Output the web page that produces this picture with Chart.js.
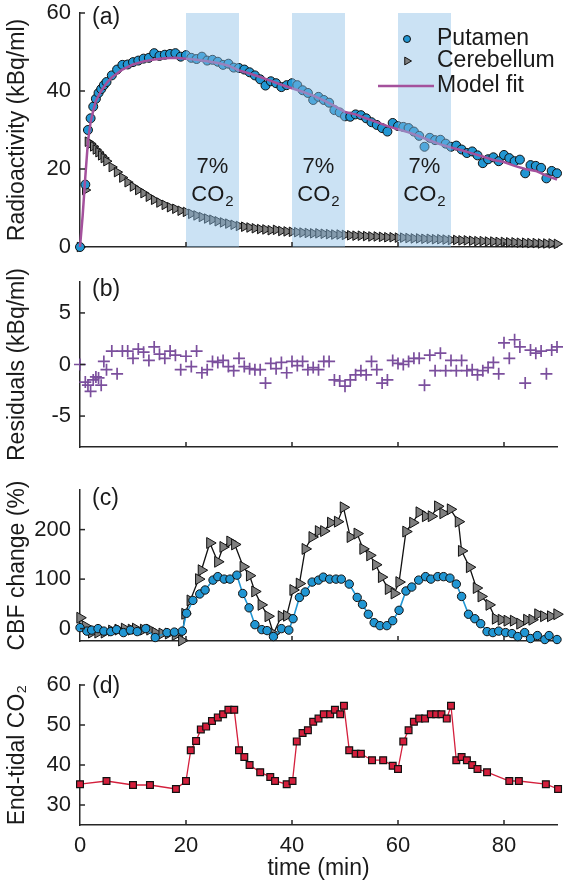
<!DOCTYPE html>
<html><head><meta charset="utf-8">
<script src="https://cdn.jsdelivr.net/npm/chart.js@4/dist/chart.umd.min.js"></script>
<style>
body{margin:0;background:#fff;width:570px;height:887px;position:relative;overflow:hidden}
canvas{position:absolute;left:0}
</style></head><body>
<canvas id="ca" width="570" height="260" style="top:0px"></canvas>
<canvas id="cb" width="570" height="200" style="top:260px"></canvas>
<canvas id="cc" width="570" height="190" style="top:460px"></canvas>
<canvas id="cd" width="570" height="237" style="top:650px"></canvas>
<script>
// ---------------- DATA ----------------
const xTicks = [0, 20, 40, 60, 80];
const co2Start = [20, 40, 60];
const co2End = [30, 50, 70];
const bandLabel = ['7%', 'CO', '2'];

// (a) radioactivity
const tA = [0,1,1.5,2,2.5,3,3.5,4,4.5,5,6,7,8,9,10,11,12,13,14,15,16,17,18,19,20,21,22,23,24,25,26,27,28,29,30,31,32,33,34,35,36,37,38,39,40,41,42,43,44,45,46,47,48,49,50,51,52,53,54,55,56,57,58,59,60,61,62,63,64,65,66,67,68,69,70,71,72,73,74,75,76,77,78,79,80,81,82,83,84,85,86,87,88,89,90];
const putamenA = [0,16,30,33,36,38,39.5,40.5,41.5,
 42.3,44,45.5,46.7,46.8,47.4,47.8,48.3,48.5,49.7,
 49,49.3,49.5,49.7,48.8,49.2,48.5,48.2,48.8,47.8,
 48,47.5,46.7,47,46,45.9,45.5,44.8,44,43,
 41.4,42.5,42,41,41.5,42,41.5,40.2,39.5,37.7,
 38.5,37.7,37,35.1,34.5,33.5,33.4,34,33.8,33,
 32,31.3,30.5,29.6,31.8,31,30.8,30.5,29.6,28.5,
 25.7,28,27.4,27.5,26.5,25.7,26,25,24.1,24.5,
 23.5,21.5,22.5,23,22,23.6,22.8,22,22.4,18.9,
 21,20.8,20.3,17.6,19.5,18.9];
const cerebellumA = [0,14.6,27,26.5,25.8,25,24.3,23.5,22.8,
 22,20.5,19.2,17.8,16.6,15.5,14.6,13.8,12.9,12.1,
 11.4,10.8,10.2,9.8,9.3,9,8.5,8.1,7.7,7.3,
 7,6.6,6.3,6,5.7,5.4,5.2,5,4.8,4.6,
 4.5,4.3,4.4,4.1,4,3.9,3.8,3.7,3.6,3.5,
 3.5,3.4,3.3,3.2,3.2,3.1,3,2.9,2.9,2.8,
 2.7,2.7,2.6,2.5,2.5,2.4,2.4,2.3,2.2,2.2,
 2.1,2.1,2,2,1.9,1.8,1.8,1.7,1.7,1.6,
 1.5,1.5,1.4,1.4,1.3,1.3,1.2,1.2,1.1,1.1,
 1,1,0.9,0.9,0.9,0.8];
const tFit = [0,0.5,1,1.5,2,2.5,3,4,5,6,8,10,12,14,16,18,20,22,24,26,28,30,32,34,36,38,40,42,44,46,48,50,52,54,56,58,60,62,64,66,68,70,72,74,76,78,80,82,84,86,88,90];
const modelFit = [0,8,18,27,32,35,37.5,40,42,43.5,
 45.5,46.8,47.6,48.1,48.4,48.5,48.3,48,47.6,47.2,
 46.5,45.3,44.5,43.6,42.6,41.6,40.7,39.8,38.8,37.6,
 36.2,34.6,34,33,32,31,30.2,29.4,28.4,27.3,
 26.3,25.5,24.8,24,23.2,22.3,21.8,20.8,20,19.5,
 18.3,17.3];
const yTicksA = [0, 20, 40, 60];

// (b) residuals (same frame times as tA)
const residuals = [0,-1.7,-2,-2.6,-1.5,-1.2,-1.3,-2,0.3,
 -0.5,1.3,-0.9,1.3,1.3,0.6,1.5,1.2,0.4,1.7,
 1,0.6,1.3,0.9,-0.5,0.8,-0.2,1.3,-0.8,-0.5,
 0.3,0.2,0.4,-0.2,-0.6,0.6,-0.2,-0.4,-0.5,-0.5,
 -1.8,0.1,-0.4,0.2,-0.8,0.3,-0.1,0.3,-0.5,-0.3,
 -0.5,0.3,0.3,-1.5,-1.6,-2.1,-1.5,-1,-0.6,-1,
 0.3,-0.5,-1.8,-1.5,0.4,0.1,0,0.3,0.6,0.6,
 -2,0.9,-0.6,1.1,-0.6,0.4,-0.6,0.4,-0.6,-0.5,
 -1,-0.6,-0.3,0.2,-0.9,2.1,0.6,2.4,1.7,-1.8,
 1.4,1.1,1.3,-0.9,1.4,1.7];
const yTicksB = [-5, 0, 5];

// (c) CBF change
const tCP = [0,1.3,2.2,3.4,4.5,5.8,6.9,8.2,9.5,10.8,12.4,14.2,16.4,17.8,19.3,20.1,21.3,22.6,23.6,25.1,26,27.2,28.3,29.6,30.7,31.9,33,34.3,35.3,36.5,38,39.4,40.2,41.4,42.5,43.8,45,45.9,47.1,48.3,49.3,50.8,52.3,53.3,54.4,55.5,56.6,57.9,59,60.2,61.5,62.6,63.9,65.2,66.2,67.5,68.6,69.8,71,72,73.3,74.5,75.6,76.8,77.9,79,80.3,81.5,82.6,83.9,85,86.3,87.7,88.5,90];
const cbfPutamen = [2,-5,-3,0,-5,-6,-2,-8,-3,-6,0,-18,-8,-7,-5,31,57,70,78,98,105,100,100,108,71,42,8,-2,-4,-16,0,-3,20,63,74,94,98,104,100,100,100,90,63,49,29,12,6,6,16,37,76,84,98,105,100,105,105,102,90,65,29,20,10,-6,-8,-5,-8,-10,-16,-8,-20,-14,-22,-14,-22];
const tCC = [0,1,2.2,3.4,4.6,6,7.2,8.4,9.7,10.5,12,13.2,14.2,15.5,16.7,18,19.2,19.8,20.8,22.4,22.9,24.5,26,27,28.3,29.2,30.8,32,33,34.2,35.5,36.5,38,39,40.2,41.4,42.5,43.8,45,46,47.3,48.6,49.7,51,52.3,53.4,54.7,55.8,56.9,58.2,59.3,60.2,61.5,62.8,64,65.2,66.3,67.5,68.5,69.9,71.4,72,73.5,74.8,75.7,77.2,78.4,79.5,80.6,81.8,83,84.3,85.3,86.4,87.5,88.8,90];
const cbfCerebellum = [22,5,-8,-8,-8,-4,-2,0,-2,0,-2,-2,-8,-10,-10,-13,-24,30,57,100,118,173,135,165,176,170,125,107,75,48,25,-10,25,26,78,91,161,185,197,197,214,216,245,185,192,161,148,129,104,80,71,94,196,214,235,227,227,247,233,241,216,157,124,82,65,48,20,18,16,16,10,18,18,29,25,25,29];
const yTicksC = [0, 100, 200];

// (d) end-tidal CO2
const tD = [0,5,10,13.2,18.1,20,20.9,21.9,22.8,23.8,24.9,26,27,28,29.1,30,31,32,34,35.9,36.8,39,40.1,40.9,42,43,44,45,46,47.2,48.1,49.1,49.8,50.8,52,53,55.1,57.2,59,60,61,62,63,64,65.1,66.2,67.2,68.2,69.2,70,71,72,73,74,75,76.8,81,82.8,87.9,90.2];
const etCO2 = [35.2,36,35,35,34,36,43.7,46,48.9,49.6,51,51.9,52.7,53.8,53.8,43.7,42,40,38.2,37,36,35.2,36,45.9,48,48.7,50.8,51.6,52.7,52.7,53.8,52.7,54.8,43.7,42.8,42.8,41.2,41.2,39.8,39,45.9,48.7,50.8,51.6,51.6,52.7,52.7,52.7,51.6,54.8,41.2,42,41.2,40,39,38.2,36,36,35.2,34];
const yTicksD = [30, 40, 50, 60];

// ---------------- STYLE ----------------
const FAMILY = '"Liberation Sans", Arial, Helvetica, "DejaVu Sans", sans-serif';
const FS_TICK = 22;
const FS_TITLE = 23;
const FS_BAND = 22;
const TXT = '#1a1a1a';
const AX = '#262626';
const BLUE = '#2196d3';
const GRAY = '#7f7f7f';
const FIT = '#a4519c';
const PURPLE = '#7b4f9d';
const RED = '#d41f3c';
const BAND = 'rgba(140,190,230,0.45)';
const fontStr = (s) => s + 'px ' + FAMILY;

Chart.defaults.font.family = FAMILY;
Chart.defaults.font.size = FS_TICK;
Chart.defaults.color = TXT;

const pts = (xs, ys) => xs.map((x, i) => ({x: x, y: ys[i]}));

function xScale(showLabels, h) {
  return {
    type: 'linear', min: 0, max: 90,
    grid: {display: false, drawTicks: false},
    border: {display: true, color: AX, width: 1.5},
    ticks: {display: showLabels, padding: 8, font: {size: FS_TICK}, color: TXT},
    title: {display: showLabels, text: 'time (min)', font: {size: FS_TITLE}, color: TXT, padding: {top: 0, bottom: 5}},
    afterBuildTicks: s => { s.ticks = xTicks.map(v => ({value: v})); },
    afterFit: s => { s.paddingLeft = 0; s.paddingRight = 0; s.paddingTop = 0; s.paddingBottom = 0; s.height = h; }
  };
}
function yScale(min, max, tk, title) {
  return {
    type: 'linear', position: 'left', min: min, max: max,
    grid: {display: false, drawTicks: false},
    border: {display: true, color: AX, width: 1.5},
    ticks: {padding: 9, font: {size: FS_TICK}, color: TXT},
    title: {display: true, text: title, font: {size: FS_TITLE}, color: TXT, padding: {top: 4, bottom: 0}},
    afterBuildTicks: s => { s.ticks = tk.map(v => ({value: v})); },
    afterFit: s => { s.width = 80; s.paddingTop = 0; s.paddingBottom = 0; }
  };
}

const inTicks = {
  id: 'inTicks',
  afterDraw(chart) {
    const ctx = chart.ctx, a = chart.chartArea, xs = chart.scales.x, ys = chart.scales.y;
    ctx.save(); ctx.strokeStyle = AX; ctx.lineWidth = 1.5;
    xs.ticks.forEach(t => { const px = xs.getPixelForValue(t.value); if (px <= a.left + 1) return;
      ctx.beginPath(); ctx.moveTo(px, a.bottom); ctx.lineTo(px, a.bottom - 5); ctx.stroke(); });
    ys.ticks.forEach(t => { const py = ys.getPixelForValue(t.value); if (py >= a.bottom - 1) return;
      ctx.beginPath(); ctx.moveTo(a.left, py); ctx.lineTo(a.left + 5, py); ctx.stroke(); });
    ctx.restore();
  }
};
const panelLabel = {
  id: 'panelLabel',
  afterDraw(chart, args, opts) {
    const ctx = chart.ctx, a = chart.chartArea;
    ctx.save(); ctx.font = fontStr(FS_TITLE); ctx.fillStyle = TXT; ctx.textAlign = 'left'; ctx.textBaseline = 'middle';
    ctx.fillText(opts.text, a.left + 12, a.top + opts.dy);
    ctx.restore();
  }
};
const bands = {
  id: 'bands',
  afterDatasetsDraw(chart) {
    const ctx = chart.ctx, a = chart.chartArea, x = chart.scales.x, y = chart.scales.y;
    ctx.save();
    ctx.fillStyle = BAND;
    co2Start.forEach((s, i) => {
      const x0 = x.getPixelForValue(s), x1 = x.getPixelForValue(co2End[i]);
      ctx.fillRect(x0, a.top, x1 - x0, a.bottom - a.top);
    });
    ctx.fillStyle = TXT; ctx.textBaseline = 'middle';
    co2Start.forEach((s, i) => {
      const cx = x.getPixelForValue((s + co2End[i]) / 2);
      ctx.font = fontStr(FS_BAND); ctx.textAlign = 'center';
      ctx.fillText(bandLabel[0], cx, y.getPixelForValue(20.6));
      const w1 = ctx.measureText(bandLabel[1]).width;
      ctx.font = fontStr(15); const w2 = ctx.measureText(bandLabel[2]).width;
      const left = cx - (w1 + w2 + 1) / 2, yc = y.getPixelForValue(13.3);
      ctx.textAlign = 'left';
      ctx.font = fontStr(FS_BAND); ctx.fillText(bandLabel[1], left, yc);
      ctx.font = fontStr(15); ctx.fillText(bandLabel[2], left + w1 + 1, yc + 7);
    });
    ctx.restore();
  }
};
const legendA = {
  id: 'legendA',
  afterDraw(chart) {
    const ctx = chart.ctx;
    const ds = chart.data.datasets;
    ctx.save();
    ctx.font = fontStr(FS_TITLE); ctx.textAlign = 'left'; ctx.textBaseline = 'middle';
    const rows = [39, 61, 86];
    const tx = 437, mx = 407;
    ctx.fillStyle = ds[1].pointBackgroundColor; ctx.strokeStyle = '#111'; ctx.lineWidth = 1;
    Chart.helpers.drawPoint(ctx, {pointStyle: 'circle', radius: 3.5, borderWidth: 1}, mx, rows[0]);
    ctx.fillStyle = ds[2].pointBackgroundColor; ctx.strokeStyle = '#111'; ctx.lineWidth = 1;
    Chart.helpers.drawPoint(ctx, {pointStyle: 'triangle', radius: 4.5, rotation: 90, borderWidth: 1}, mx, rows[1]);
    ctx.strokeStyle = ds[0].borderColor; ctx.lineWidth = 2.5;
    ctx.beginPath(); ctx.moveTo(378, rows[2]); ctx.lineTo(434, rows[2]); ctx.stroke();
    ctx.fillStyle = TXT;
    ctx.fillText(ds[1].label, tx, rows[0]);
    ctx.fillText(ds[2].label, tx, rows[1]);
    ctx.fillText(ds[0].label, tx, rows[2]);
    ctx.restore();
  }
};

const common = (pad, label, dy) => ({
  responsive: false, maintainAspectRatio: false, animation: false,
  layout: {padding: pad},
  plugins: {legend: {display: false}, tooltip: {enabled: false}, panelLabel: {text: label, dy: dy}},
  elements: {line: {tension: 0}}
});

// (a)
new Chart(document.getElementById('ca'), {
  type: 'line',
  data: {datasets: [
    {label: 'Model fit', data: pts(tFit, modelFit), borderColor: FIT, borderWidth: 2.5, pointRadius: 0, order: 0, clip: false},
    {label: 'Putamen', data: pts(tA, putamenA), showLine: false, pointStyle: 'circle', pointRadius: 4.5, pointBackgroundColor: BLUE, pointBorderColor: '#111', pointBorderWidth: 1, order: 1, clip: false},
    {label: 'Cerebellum', data: pts(tA, cerebellumA), showLine: false, pointStyle: 'triangle', pointRotation: 90, pointRadius: 5.5, pointBackgroundColor: GRAY, pointBorderColor: '#111', pointBorderWidth: 1, order: 2, clip: false}
  ]},
  options: Object.assign(common({top: 13, bottom: 13, left: 0, right: 13}, '(a)', 5), {
    scales: {x: xScale(false, 0), y: yScale(0, 60, yTicksA, 'Radioactivity (kBq/ml)')}
  }),
  plugins: [bands, inTicks, panelLabel, legendA]
});

// (b)
new Chart(document.getElementById('cb'), {
  type: 'line',
  data: {datasets: [
    {label: 'Residuals', data: pts(tA, residuals), showLine: false, pointStyle: 'cross', pointRadius: 6, pointBorderColor: PURPLE, pointBorderWidth: 1.7, clip: false}
  ]},
  options: Object.assign(common({top: 22, bottom: 13, left: 0, right: 13}, '(b)', 8), {
    scales: {x: xScale(false, 0), y: yScale(-8, 8, yTicksB, 'Residuals (kBq/ml)')}
  }),
  plugins: [inTicks, panelLabel]
});

// (c)
new Chart(document.getElementById('cc'), {
  type: 'line',
  data: {datasets: [
    {label: 'Putamen', data: pts(tCP, cbfPutamen), borderColor: BLUE, borderWidth: 1.6, pointStyle: 'circle', pointRadius: 4.2, pointBackgroundColor: BLUE, pointBorderColor: '#111', pointBorderWidth: 1, order: 0, clip: false},
    {label: 'Cerebellum', data: pts(tCC, cbfCerebellum), borderColor: '#111', borderWidth: 1.3, pointStyle: 'triangle', pointRotation: 90, pointRadius: 6.3, pointBackgroundColor: GRAY, pointBorderColor: '#111', pointBorderWidth: 1, order: 1, clip: false}
  ]},
  options: Object.assign(common({top: 30, bottom: 9, left: 0, right: 13}, '(c)', 9), {
    scales: {x: xScale(false, 0), y: yScale(-25, 280, yTicksC, 'CBF change (%)')}
  }),
  plugins: [inTicks, panelLabel]
});

// (d)
new Chart(document.getElementById('cd'), {
  type: 'line',
  data: {datasets: [
    {label: 'End-tidal CO2', data: pts(tD, etCO2), borderColor: RED, borderWidth: 1.3, pointStyle: 'rect', pointRadius: 4.8, pointBackgroundColor: RED, pointBorderColor: '#111', pointBorderWidth: 1.2, clip: false}
  ]},
  options: Object.assign(common({top: 35, bottom: 0, left: 0, right: 13}, '(d)', 2), {
    scales: {x: xScale(true, 62), y: yScale(25, 60, yTicksD, 'End-tidal CO\u2082')}
  }),
  plugins: [inTicks, panelLabel]
});
</script>
</body></html>
